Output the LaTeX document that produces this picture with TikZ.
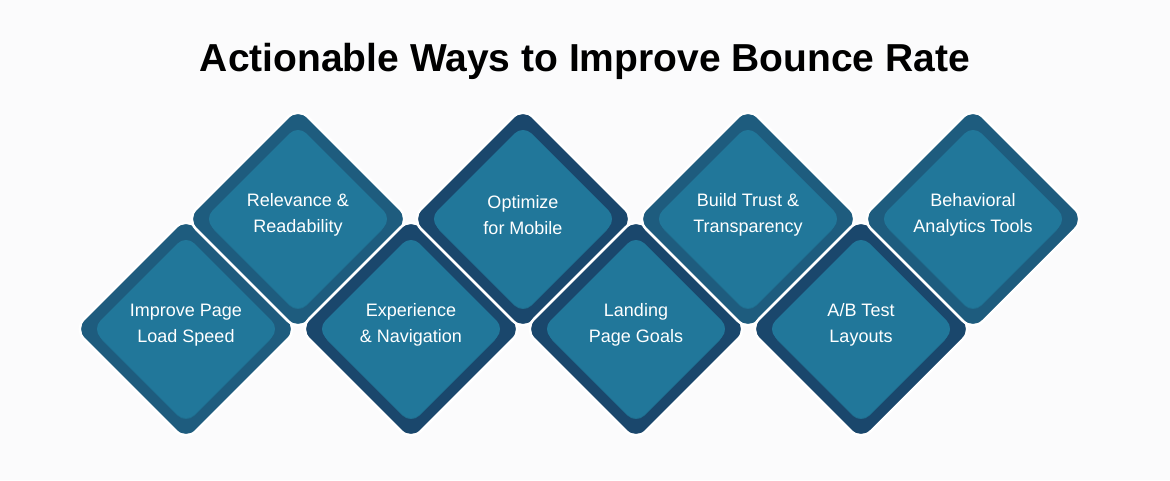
\documentclass[tikz,border=0pt]{standalone}
\usepackage{fontspec}
\setmainfont{Liberation Sans}
\begin{document}
\begin{tikzpicture}[x=1pt,y=-1pt,
  lbl/.style={text=white,font=\fontsize{18}{26}\selectfont,align=center},
  ttl/.style={font=\bfseries\fontsize{39}{42}\selectfont,text=black}]
\definecolor{bg}{HTML}{FBFBFC}
\definecolor{tealo}{HTML}{1E5C7E}
\definecolor{navyo}{HTML}{1A476C}
\definecolor{inner}{HTML}{21779A}
\definecolor{innerd}{HTML}{1F6F90}
\fill[bg] (0,0) rectangle (1170,480);
\useasboundingbox (0,0) rectangle (1170,480);
\node[ttl] (title) at (585,61) {Actionable Ways to Improve Bounce Rate};
\newcommand{\dia}[5]{% x y color name text
  \filldraw[fill=#3,draw=white,line width=2.5pt,rounded corners=14pt] (#1-112,#2) -- (#1,#2-112) -- (#1+112,#2) -- (#1,#2+112) -- cycle;
  \fill[innerd,rounded corners=12pt] (#1-92,#2+3) -- (#1,#2-89) -- (#1+92,#2+3) -- (#1,#2+95) -- cycle;
  \fill[inner,rounded corners=12pt] (#1-94,#2) -- (#1,#2-94) -- (#1+94,#2) -- (#1,#2+94) -- cycle;
  \node[lbl] (#4) at (#1,#2-4) {#5};}
\dia{186}{329}{tealo}{n1}{Improve Page\\Load Speed}
\dia{298}{219}{tealo}{n2}{Relevance \&\\Readability}
\dia{411}{329}{navyo}{n3}{Experience\\\& Navigation}
\dia{523}{219}{navyo}{n4}{Optimize\\for Mobile}
\dia{636}{329}{navyo}{n5}{Landing\\Page Goals}
\dia{748}{219}{tealo}{n6}{Build Trust \&\\Transparency}
\dia{861}{329}{navyo}{n7}{A/B Test\\Layouts}
\dia{973}{219}{tealo}{n8}{Behavioral\\Analytics Tools}
\end{tikzpicture}
\end{document}
